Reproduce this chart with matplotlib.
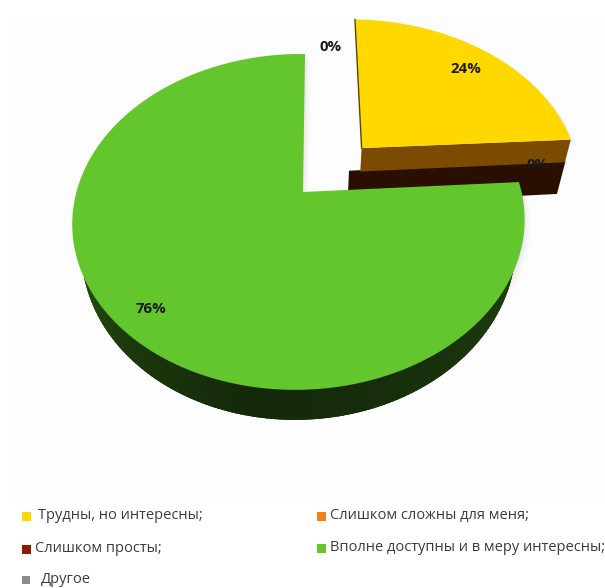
import numpy as np
import matplotlib
matplotlib.use("Agg")
import matplotlib.pyplot as plt
from matplotlib.patches import Polygon, Rectangle

# Survey shares
categories = ["Трудны, но интересны;", "Слишком сложны для меня;", "Слишком просты;",
              "Вполне доступны и в меру интересны;", "Другое"]
values = [24, 0, 0, 76, 0]
top_colors = ["#ffd800", "#f57f17", "#8b1a00", "#63c62d", "#8c8c8c"]

# Where each percentage label sits
label_xy = [(466, 69), (538, 165), (331, 47), (151, 309), (331, 47)]
label_shown = [True, True, True, True, False]

# Legend layout: swatch x, swatch y, swatch size, text x
legend_layout = [(26, 516, 9, 38), (321, 516, 9, 330), (26, 549, 9, 35), (321, 548, 9, 330), (26, 580, 8, 41)]

# Perspective projection of the unit pie disk onto the canvas
APEX_X, APEX_Y = 303.0, 192.0
A, B, C = 222.5, 162.6, 2.4
PERSP_V, PERSP_U = 0.178, 0.018
DEPTH = 24.66
SHRINK = 0.022
RIM_SHRINK = 0.04


def project(u, v, z=0.0, shrink=SHRINK):
    u, v = np.asarray(u, float), np.asarray(v, float)
    w = 1 + PERSP_V * v + PERSP_U * u
    x = (A * u + C * v) / w * (1 - shrink * z)
    y = -B * v / w + z * DEPTH / w
    return APEX_X + x, APEX_Y + y


def rim(start, stop, off=(0.0, 0.0), radius=1.0, n=240):
    t = np.radians(np.linspace(start, stop, n))
    return off[0] + radius * np.sin(t), off[1] + radius * np.cos(t)


def as_xy(x, y):
    return np.column_stack([x, y])


plt.rcParams["font.family"] = ["Open Sans", "DejaVu Sans"]
fig = plt.figure(figsize=(6.05, 5.88), dpi=100, facecolor="white")
ax = fig.add_axes([0, 0, 1, 1])
ax.set_xlim(0, 605)
ax.set_ylim(588, 0)
ax.axis("off")
ax.add_patch(Rectangle((12, 16), 593, 486, fc="#fdfdfd", ec="none", zorder=0))

# Slice angles from the values, clockwise from twelve o'clock
edges = np.concatenate([[0], np.cumsum(values)]) * 3.6
yellow_start, yellow_stop = edges[0], edges[1]
green_start, green_stop = edges[3], edges[4]
explode_yellow = (0.275, 0.285)
explode_thin = (0.22, 0.29)
yellow_radius = 1.03


def soft_shadow(points, zorder):
    for dx, dy, alpha in [(7, 7, 0.012), (5, 5, 0.02), (3, 3, 0.03), (1.5, 1.5, 0.04)]:
        ax.add_patch(Polygon(points + [dx, dy], closed=True, fc="#555560", alpha=alpha, ec="none", zorder=zorder))


# Green slice outline
gu, gv = rim(green_start, green_stop)
green_top = as_xy(*project(np.r_[0, gu], np.r_[0, gv]))
soft_shadow(green_top, 1)

# Yellow slice outline
yu, yv = rim(yellow_start, yellow_stop, explode_yellow, yellow_radius)
yellow_top = as_xy(*project(np.r_[explode_yellow[0], yu], np.r_[explode_yellow[1], yv]))
soft_shadow(yellow_top, 1)

# Wall of the two empty slices, lying below the yellow one
ang = np.radians(yellow_stop)
tip_u = explode_thin[0] + 1.09 * np.sin(ang)
tip_v = explode_thin[1] + 1.09 * np.cos(ang)
su = [explode_thin[0], tip_u, tip_u, explode_thin[0]]
sv = [explode_thin[1], tip_v, tip_v, explode_thin[1]]
sz = [1.0, 1.0, 2.45, 2.45]
slab = np.array([project(a, b, c) for a, b, c in zip(su, sv, sz)], float)
ax.add_patch(Polygon(slab, closed=True, fc="#2a0e00", ec="none", zorder=2))

# Front wall of the yellow slice
cu, cv = explode_yellow
tu, tv = cu + yellow_radius * np.sin(ang), cv + yellow_radius * np.cos(ang)
wall = np.array([project(cu, cv, 0), project(tu, tv, 0), project(tu, tv, 1), project(cu, cv, 1)], float)
ax.add_patch(Polygon(wall, closed=True, fc="#7a4b00", ec="none", zorder=3))
ax.add_patch(Polygon(yellow_top, closed=True, fc=top_colors[0], ec="none", zorder=4))
ax.plot(yellow_top[:2, 0], yellow_top[:2, 1], color="#5a4300", lw=1.0, zorder=4.5)

# Green rim wall, shaded along the sweep of the slice
wall_angles = [90, 150, 190, 225, 265, 285]
wall_reds = [0x24, 0x18, 0x14, 0x1c, 0x2b, 0x30]
wall_greens = [0x48, 0x30, 0x28, 0x3a, 0x58, 0x62]
wall_blues = [0x0e, 0x0b, 0x0a, 0x0c, 0x10, 0x12]
t_deg = np.linspace(green_start, 285, 200)
for a0, a1 in zip(t_deg[:-1], t_deg[1:]):
    # each strip starts just inside the top face and runs a little into the next
    rad = np.radians([a0, a1 + 1.5])
    uu, vv = np.sin(rad), np.cos(rad)
    x0, y0 = project(0.97 * uu, 0.97 * vv, 0, RIM_SHRINK)
    x1, y1 = project(uu, vv, 1, RIM_SHRINK)
    mid = (a0 + a1) / 2
    col = (np.interp(mid, wall_angles, wall_reds) / 255,
           np.interp(mid, wall_angles, wall_greens) / 255,
           np.interp(mid, wall_angles, wall_blues) / 255)
    quad = np.array([[x0[0], y0[0]], [x0[1], y0[1]], [x1[1], y1[1]], [x1[0], y1[0]]])
    ax.add_patch(Polygon(quad, closed=True, fc=col, ec="none", zorder=5))
ax.add_patch(Polygon(green_top, closed=True, fc=top_colors[3], ec="none", zorder=6))

# Percentage labels
for value, (lx, ly), shown in zip(values, label_xy, label_shown):
    if shown:
        ax.text(lx, ly, f"{value}%", ha="center", va="center", fontsize=10.8,
                fontweight="bold", color="#1a1a1a", zorder=8)

# Legend
for name, color, (sx, sy, size, tx) in zip(categories, top_colors, legend_layout):
    ax.add_patch(Rectangle((sx - size / 2, sy - size / 2), size, size, fc=color, ec="none", zorder=8))
    ax.text(tx, sy - 0.5, name, ha="left", va="center", fontsize=10.5, color="#3c3c3c", zorder=8)

fig.savefig("out.png", dpi=100, facecolor="white")
